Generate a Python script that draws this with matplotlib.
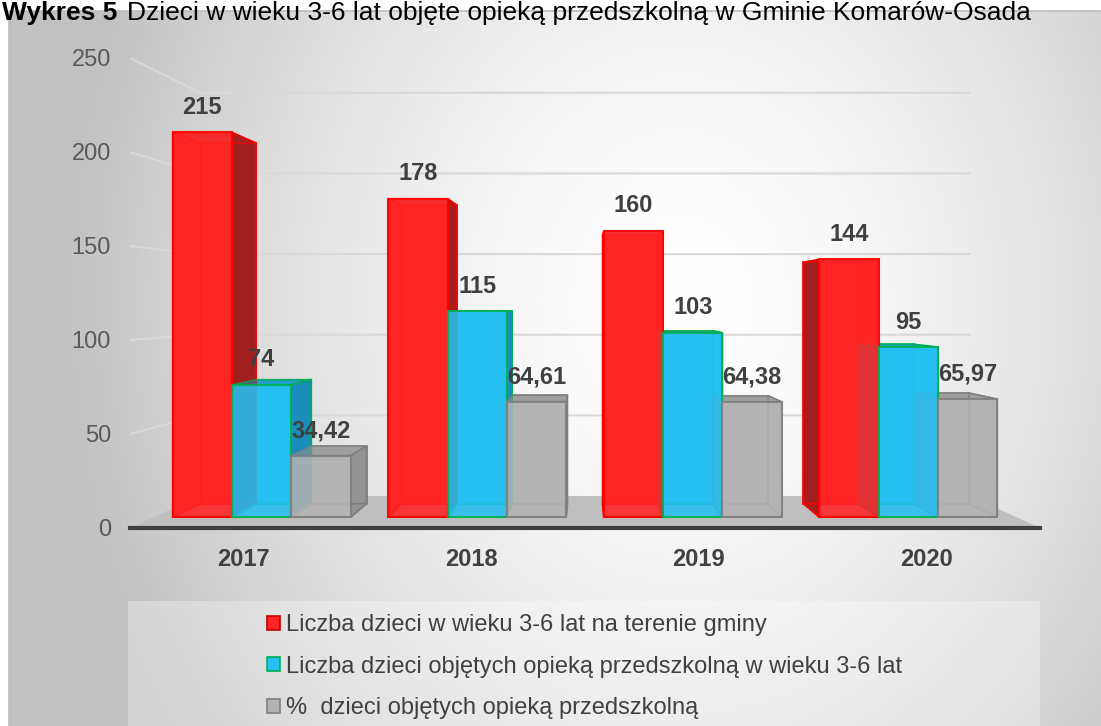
import numpy as np
import matplotlib
matplotlib.use('Agg')
import matplotlib.pyplot as plt
from matplotlib.patches import Polygon, Rectangle, Patch

plt.rcParams['font.family'] = ['Liberation Sans', 'DejaVu Sans']

# data
years = ['2017', '2018', '2019', '2020']
children_total = [215, 178, 160, 144]
children_preschool = [74, 115, 103, 95]
percent_preschool = [34.42, 64.61, 64.38, 65.97]
series_names = ['Liczba dzieci w wieku 3-6 lat na terenie gminy',
                'Liczba dzieci objętych opieką przedszkolną w wieku 3-6 lat',
                '%  dzieci objętych opieką przedszkolną']
yticks = [0, 50, 100, 150, 200, 250]
title_bold = 'Wykres 5'
title_rest = 'Dzieci w wieku 3-6 lat objęte opieką przedszkolną w Gminie Komarów-Osada'

# face / edge / side colours per series
colors = [('#ff2424', '#ff0000', '#a11f1f'),
          ('#25bff2', '#00b050', '#1b8dbb'),
          ('#b3b3b3', '#7f7f7f', '#939393')]
legend_edges = ['#c00000', '#00b050', '#808080']

W, H = 1101, 726
fig = plt.figure(figsize=(W / 100, H / 100), dpi=100)


def fx(px):
    return px / W


def fy(py):
    return 1 - py / H


# chart area background (radial grey gradient)
bg = fig.add_axes([0, 0, 1, 1], zorder=0)
bg.set_xlim(0, W)
bg.set_ylim(H, 0)
bg.axis('off')
xx, yy = np.meshgrid(np.arange(9, W), np.arange(11, H))
d = np.sqrt(((xx - 680) / 620.0) ** 2 + ((yy - 300) / 750.0) ** 2)
shade = (255 - 62 * np.clip(d, 0, 1) ** 1.6) / 255
bg.imshow(np.dstack([shade] * 3), extent=(9, W, H, 11), aspect='auto')
bg.add_patch(Rectangle((9, 11), W, H, fill=False, edgecolor='#bdbdbd', lw=1.2))
bg.add_patch(Rectangle((128, 601), 912, 130, facecolor='white', alpha=0.3,
                       edgecolor='none'))

# title
fig.text(fx(2), fy(1), title_bold, fontsize=19, fontweight='bold',
         ha='left', va='top', zorder=5)
fig.text(fx(127), fy(1), title_rest, fontsize=19, ha='left', va='top', zorder=5)

# main axes = front plane of the 3D box
ax = fig.add_axes([fx(130), fy(528), fx(1040) - fx(130), fy(58) - fy(528)], zorder=1)
ax.set_xlim(-0.5, 3.5)
ax.set_ylim(0, 250)
ax.patch.set_visible(False)

CX = 1.5      # horizontal centre of the view
RISE = 17.0   # floor rise from front edge to back wall (axis units)


def proj(X, v, t):
    # simple perspective: t=0 front plane, t=1 back wall
    k = 1 - 0.154 * t
    m = 1 - 0.142 * t
    return CX + X * k, RISE * t + m * v


# floor
floor = [proj(-2, 0, 0), proj(2, 0, 0), proj(2, 0, 1), proj(-2, 0, 1)]
ax.add_patch(Polygon(floor, closed=True, facecolor='#bfbfbf', edgecolor='none', zorder=1))

# gridlines on back wall + left wall
for v in yticks[1:]:
    p0, p1, p2 = proj(-2, v, 0), proj(-2, v, 1), proj(2, v, 1)
    ax.plot([p0[0], p1[0], p2[0]], [p0[1], p1[1], p2[1]], color='#d9d9d9', lw=1.5, zorder=1)

TF, TB = 0.34, 0.76
bw = 0.275
kf, mf = 1 - 0.154 * TF, 1 - 0.142 * TF
kb, mb = 1 - 0.154 * TB, 1 - 0.142 * TB
series = [children_total, children_preschool, percent_preschool]

for j, vals in enumerate(series):
    face, edge, side = colors[j]
    for i, v in enumerate(vals):
        XL = (i - 1.5) + (j - 1.5) * bw
        XR = XL + bw
        # back face
        ax.bar(CX + XL * kb, mb * v, width=bw * kb, bottom=RISE * TB, align='edge',
               color=face, edgecolor=edge, lw=1.2, zorder=2)
        # side faces (hidden one filled with the face colour)
        for X, visible in ((XL, XL > 0), (XR, XR < 0)):
            poly = [proj(X, 0, TF), proj(X, 0, TB), proj(X, v, TB), proj(X, v, TF)]
            ax.add_patch(Polygon(poly, closed=True, facecolor=side if visible else face,
                                 edgecolor=edge, lw=1.2, zorder=3 if visible else 2.5))
        # top and bottom faces
        top = [proj(XL, v, TF), proj(XR, v, TF), proj(XR, v, TB), proj(XL, v, TB)]
        ax.add_patch(Polygon(top, closed=True, facecolor=side, alpha=0.6,
                             edgecolor=edge, lw=1.2, zorder=3))
        bot = [proj(XL, 0, TF), proj(XR, 0, TF), proj(XR, 0, TB), proj(XL, 0, TB)]
        ax.add_patch(Polygon(bot, closed=True, facecolor='none', edgecolor=edge,
                             lw=1.2, zorder=3))
        # front face
        ax.bar(CX + XL * kf, mf * v, width=bw * kf, bottom=RISE * TF, align='edge',
               color=face, alpha=0.88, edgecolor=edge, lw=1.5, zorder=4)
        label = f'{v:.2f}'.replace('.', ',') if j == 2 else str(v)
        ax.annotate(label, xy=(CX + (XL + bw / 2) * kf, RISE * TF + mf * v),
                    xytext=(0, 18), textcoords='offset points', ha='center', va='center',
                    fontsize=17, fontweight='bold', color='#404040', zorder=6)

ax.set_yticks(yticks)
ax.set_yticklabels([str(v) for v in yticks])
ax.set_xticks(range(len(years)))
ax.set_xticklabels(years, fontweight='bold')
ax.tick_params(axis='y', length=0, pad=13.7, labelsize=17, labelcolor='#595959')
ax.tick_params(axis='x', length=0, pad=14.4, labelsize=17, labelcolor='#404040')
for s in ('left', 'right', 'top'):
    ax.spines[s].set_visible(False)
ax.spines['bottom'].set_color('#404040')
ax.spines['bottom'].set_linewidth(3)

# legend
handles = [Patch(facecolor=colors[j][0], edgecolor=legend_edges[j], lw=1.2) for j in range(3)]
leg = fig.legend(handles, series_names, loc='upper left',
                 bbox_to_anchor=(fx(267), fy(614)), frameon=False, fontsize=17,
                 handlelength=0.55, handleheight=0.55, handletextpad=0.25,
                 labelspacing=0.83, borderpad=0, borderaxespad=0)
for t in leg.get_texts():
    t.set_color('#404040')

fig.savefig('out.png', dpi=100)
